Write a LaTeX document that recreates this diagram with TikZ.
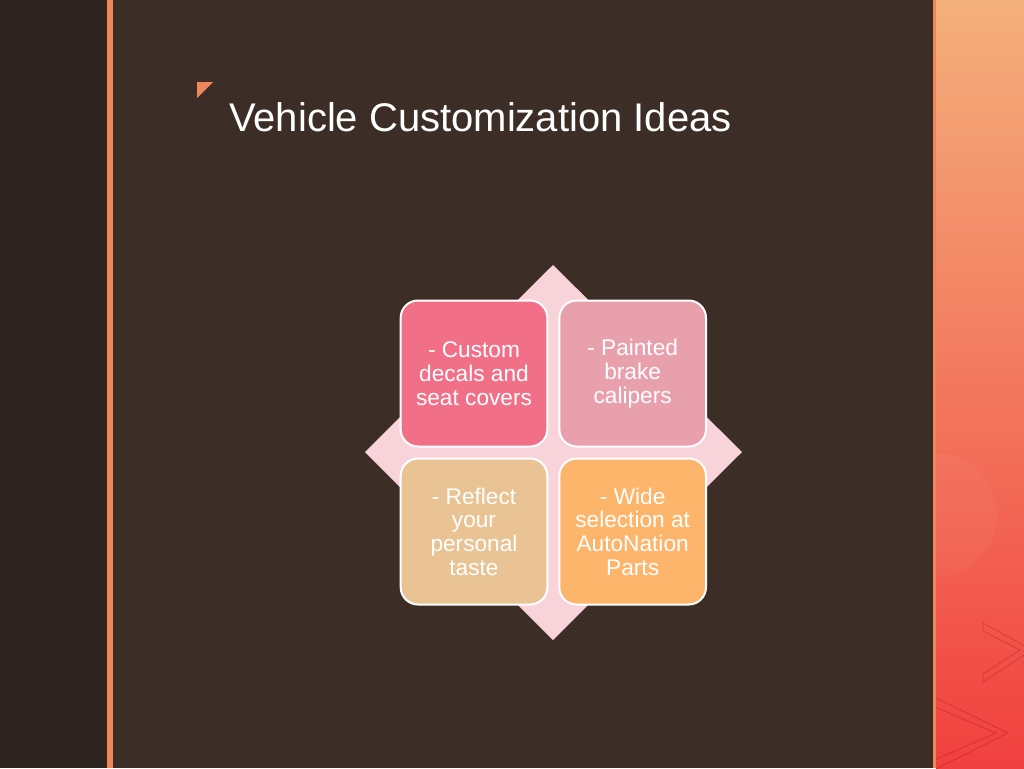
\documentclass[tikz,border=0pt]{standalone}
\usepackage{fontspec}
\setmainfont{Liberation Sans}
\usetikzlibrary{positioning}

\definecolor{bgmain}{HTML}{3C2D26}
\definecolor{bgleft}{HTML}{2D2420}
\definecolor{accent}{HTML}{F0875A}
\definecolor{diamondpink}{HTML}{F9D3DA}
\definecolor{boxTL}{HTML}{F27087}
\definecolor{boxTR}{HTML}{E9A0AD}
\definecolor{boxBL}{HTML}{E9C394}
\definecolor{boxBR}{HTML}{FDB46B}
\definecolor{panelTop}{HTML}{F4B07C}
\definecolor{panelMid}{HTML}{F0806A}
\definecolor{panelBot}{HTML}{F1403F}

\tikzset{
	ideabox/.style={rectangle,rounded corners=13pt,draw=white,line width=1.5pt,
		minimum width=110pt,minimum height=109.5pt,align=center,text=white,
		font=\fontsize{17}{17.8}\selectfont},
	chevron/.style={draw=red!55!black,opacity=.25,line width=.6pt}
}

\begin{document}
\begin{tikzpicture}[x=0.75pt,y=-0.75pt]
	\useasboundingbox (0,0) rectangle (1024,768);
	
	%panels
	\fill[bgleft] (0,0) rectangle (107,768);		%left strip
	\fill[accent] (107,0) rectangle (113,768);		%left rule
	\fill[bgmain] (113,0) rectangle (933,768);		%slide
	\fill[accent] (933,0) rectangle (936,768);		%right rule
	\shade[top color=panelTop,middle color=panelMid,bottom color=panelBot] (936,0) rectangle (1024,768);
	
	%right panel decoration
	\begin{scope}
		\clip (936,0) rectangle (1024,768);
		\fill[white,opacity=.04] (935,515) circle (62);
		\draw[chevron] (983,623)--(1032,650)--(983,682)--(983,674)--(1020,650)--(983,631)--cycle;
		\draw[chevron] (930,695)--(1008,733)--(930,772)--(930,762)--(996,733)--(930,705)--cycle;
	\end{scope}
	
	%title
	\fill[accent] (197,82)--(213,82)--(197,98)--cycle;
	\node[anchor=west,text=white,font=\fontsize{30}{36}\selectfont,inner sep=0pt] (title) at (229,117) {Vehicle Customization Ideas};
	
	%diamond
	\fill[diamondpink] (553,265)--(742,452)--(553,640)--(365,452)--cycle;
	
	%ideas
	\node[ideabox,fill=boxTL] (custom) at (474,373.5) {- Custom\\decals and\\seat covers};
	\node[ideabox,fill=boxTR,right=7.5pt of custom] (painted) {- Painted\\brake\\calipers};
	\node[ideabox,fill=boxBL,below=7.5pt of custom] (reflect) {- Reflect\\your\\personal\\taste};
	\node[ideabox,fill=boxBR,below=7.5pt of painted] (wide) {- Wide\\selection at\\AutoNation\\Parts};
\end{tikzpicture}
\end{document}
